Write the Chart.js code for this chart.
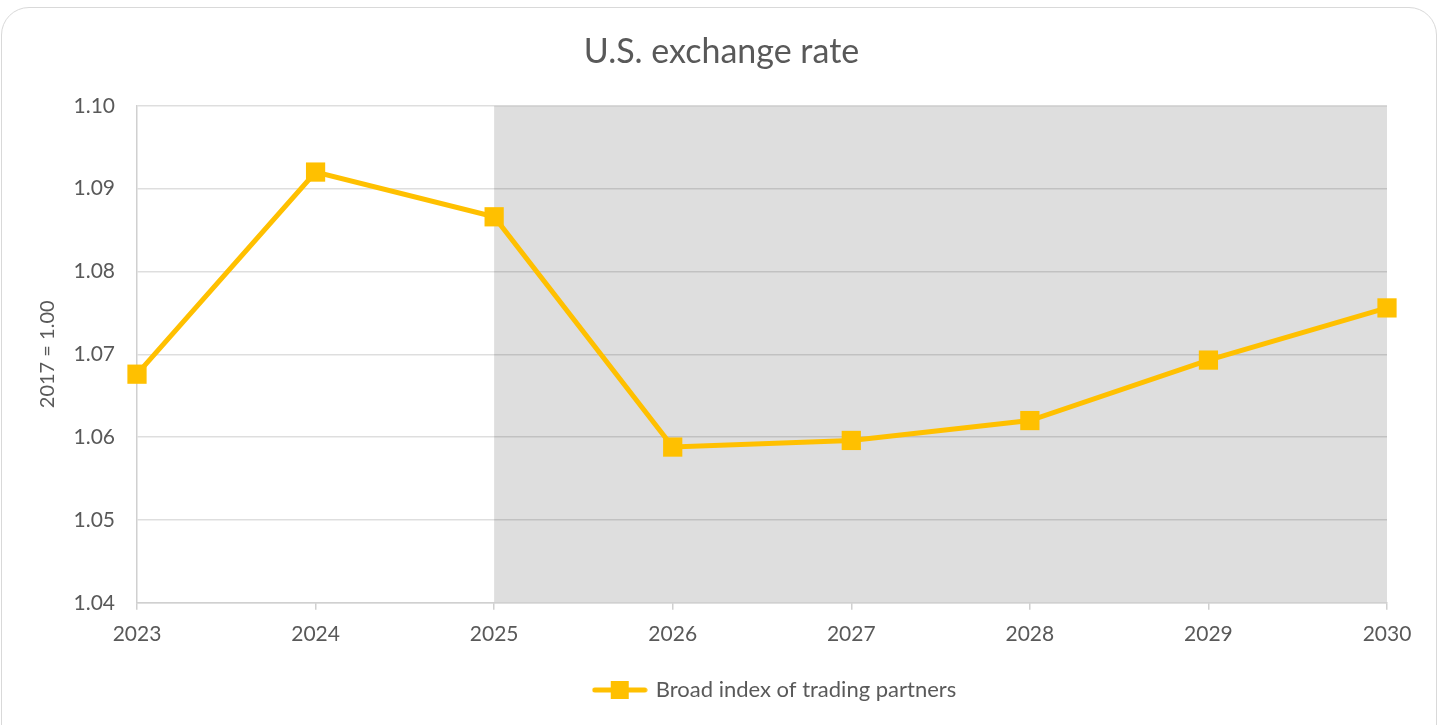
<!DOCTYPE html>
<html>
<head>
<meta charset="utf-8">
<script src="https://cdn.jsdelivr.net/npm/chart.js@4"></script>
<style>
  html, body { margin: 0; padding: 0; background: #fff; overflow: hidden; }
  #card {
    position: absolute; left: 1px; top: 7px; width: 1436px; height: 760px;
    border: 1.5px solid #d9d9d9; border-radius: 28px; box-sizing: border-box;
  }
  #wrap { position: absolute; left: 0; top: 0; width: 1442px; height: 725px; }
</style>
</head>
<body>
<div id="card"></div>
<div id="wrap"><canvas id="myChart" width="1442" height="725"></canvas></div>
<script>
// data
var years = ["2023", "2024", "2025", "2026", "2027", "2028", "2029", "2030"];
var broadIndex = [1.0676, 1.0920, 1.0866, 1.0588, 1.0596, 1.0620, 1.0693, 1.0756];
var yMin = 1.04;
var yMax = 1.10;
var yStep = 0.01;
// shaded projection period
var shadeFrom = "2025";
var shadeTo = "2030";

var amarillo = "#FFC000";
var gris = "#595959";
var fuente = "Lato";

// legend symbol: line with a square in the middle
var simbolo = document.createElement("canvas");
simbolo.width = 56;
simbolo.height = 20;
var sctx = simbolo.getContext("2d");
sctx.strokeStyle = amarillo;
sctx.lineWidth = 5;
sctx.lineCap = "round";
sctx.beginPath();
sctx.moveTo(3, 10);
sctx.lineTo(53, 10);
sctx.stroke();
sctx.fillStyle = amarillo;
sctx.fillRect(19, 1, 18, 18);

var sombra = {
  id: "sombra",
  beforeDraw: function(chart) {
    var ctx = chart.ctx;
    var x = chart.scales.x;
    var a = chart.chartArea;
    var x0 = x.getPixelForValue(years.indexOf(shadeFrom));
    var x1 = x.getPixelForValue(years.indexOf(shadeTo));
    ctx.save();
    ctx.fillStyle = "#dedede";
    ctx.fillRect(x0, a.top, x1 - x0, a.bottom - a.top);
    ctx.restore();
  }
};

// title centred on the whole card, legend a bit to the right like the original
var mover = {
  id: "mover",
  afterLayout: function(chart) {
    if (chart.titleBlock) {
      chart.titleBlock.left += 10;
      chart.titleBlock.right += 10;
    }
    if (chart.legend) {
      chart.legend.left += 64;
      chart.legend.right += 64;
    }
  }
};

var ctx = document.getElementById("myChart").getContext("2d");
var chart = new Chart(ctx, {
  type: "line",
  plugins: [sombra, mover],
  data: {
    labels: years,
    datasets: [{
      label: "Broad index of trading partners",
      data: broadIndex,
      borderColor: amarillo,
      backgroundColor: amarillo,
      borderWidth: 5,
      pointStyle: "rect",
      pointRadius: 13.6,
      pointBorderWidth: 0,
      pointBackgroundColor: amarillo,
      tension: 0,
      clip: false
    }]
  },
  options: {
    responsive: false,
    animation: false,
    layout: { padding: { left: 36, right: 55, top: 0, bottom: 14 } },
    plugins: {
      tooltip: { enabled: false },
      title: {
        display: true,
        text: "U.S. exchange rate",
        color: gris,
        font: { family: fuente, size: 34, weight: "normal" },
        padding: { top: 32, bottom: 33 }
      },
      legend: {
        position: "bottom",
        labels: {
          usePointStyle: true,
          pointStyle: simbolo,
          pointStyleWidth: 50,
          color: gris,
          font: { family: fuente, size: 22 },
          padding: 10
        }
      }
    },
    scales: {
      x: {
        offset: false,
        afterFit: function(scale) { scale.height += 10; },
        grid: {
          display: true,
          drawOnChartArea: false,
          drawTicks: true,
          tickLength: 7,
          color: "#d0d0d0",
          lineWidth: 1.5
        },
        border: { color: "#d0d0d0", width: 1.5 },
        ticks: {
          color: gris,
          font: { family: fuente, size: 21 },
          padding: 12,
          maxRotation: 0
        }
      },
      y: {
        min: yMin,
        max: yMax,
        afterFit: function(scale) { scale.width = 101; },
        grid: {
          color: "rgba(0,0,0,0.13)",
          lineWidth: 1.5,
          drawTicks: false
        },
        border: { color: "#d0d0d0", width: 1.5 },
        ticks: {
          stepSize: yStep,
          color: gris,
          font: { family: fuente, size: 21 },
          padding: 22,
          callback: function(v) { return v.toFixed(2); }
        },
        title: {
          display: true,
          text: "2017 = 1.00",
          color: gris,
          font: { family: fuente, size: 20 },
          padding: 0
        }
      }
    }
  }
});
</script>
</body>
</html>
